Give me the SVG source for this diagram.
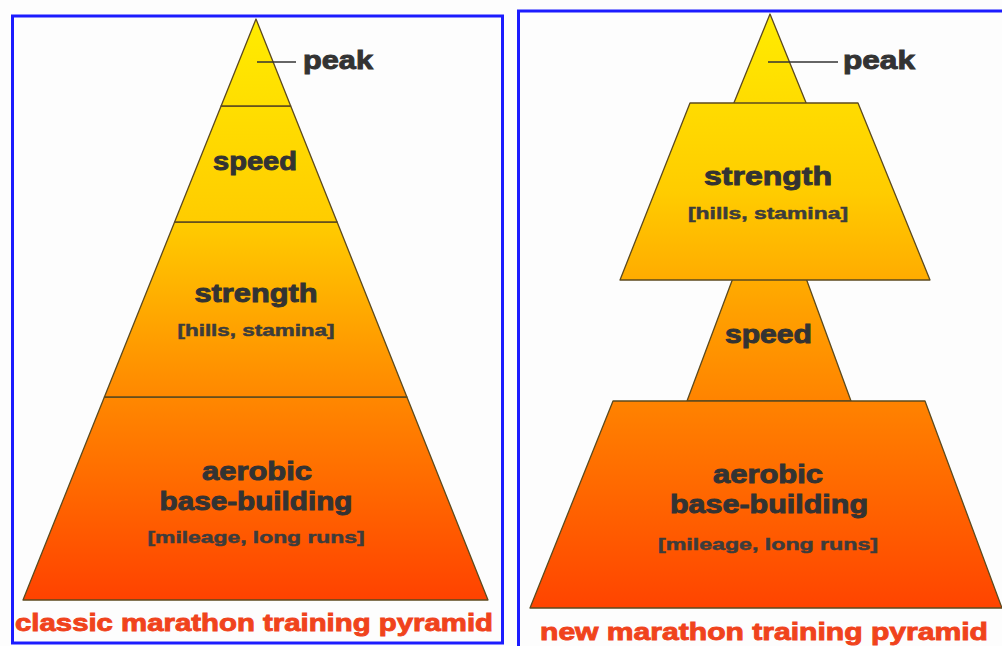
<svg xmlns="http://www.w3.org/2000/svg" width="1002" height="646" viewBox="0 0 1002 646">
  <defs>
    <!-- warm yellow-to-red fill for the classic pyramid -->
    <linearGradient id="gradClassic" gradientUnits="userSpaceOnUse" x1="0" y1="19" x2="0" y2="600">
      <stop offset="0" stop-color="#ffec00"/>
      <stop offset="0.35" stop-color="#ffcc00"/>
      <stop offset="0.62" stop-color="#ff8e00"/>
      <stop offset="1" stop-color="#ff4200"/>
    </linearGradient>
    <!-- same palette for the new pyramid -->
    <linearGradient id="gradNew" gradientUnits="userSpaceOnUse" x1="0" y1="14" x2="0" y2="608">
      <stop offset="0" stop-color="#ffec00"/>
      <stop offset="0.3" stop-color="#ffcc00"/>
      <stop offset="0.5" stop-color="#ffa000"/>
      <stop offset="0.7" stop-color="#ff7a00"/>
      <stop offset="1" stop-color="#ff4400"/>
    </linearGradient>
    <style>
      .frame { fill: none; stroke: #1c1cff; stroke-width: 3; }
      .tierC { fill: url(#gradClassic); stroke: #5c4a1e; stroke-width: 1.3; stroke-linejoin: round; }
      .tierN { fill: url(#gradNew); stroke: #5c4a1e; stroke-width: 1.3; stroke-linejoin: round; }
      .leader { stroke: #333; stroke-width: 1.6; fill: none; }
      .lbl { font-family: "Liberation Sans", Arial, sans-serif; font-weight: bold; fill: #333333; stroke: #333333; stroke-width: 0.9; font-size: 25px; }
      .sub { font-family: "Liberation Sans", Arial, sans-serif; font-weight: bold; fill: #3c3c3c; stroke: #3c3c3c; stroke-width: 0.5; font-size: 17px; }
      .cap { font-family: "Liberation Sans", Arial, sans-serif; font-weight: bold; fill: #f0431c; stroke: #f0431c; stroke-width: 0.9; font-size: 24px; }
      .mid { text-anchor: middle; }
    </style>
  </defs>

  <rect x="0" y="0" width="1002" height="646" fill="#fdfdfd"/>

  <!-- frames -->
  <rect class="frame" x="12.5" y="16" width="490" height="627"/>
  <rect class="frame" x="518.5" y="11" width="500" height="650"/>

  <!-- classic pyramid -->
  <g id="classic-aerobic">
    <polygon class="tierC" points="104.4,397 406.9,397 488,600 23,600"/>
    <text class="lbl mid" x="257" y="480" textLength="110" lengthAdjust="spacingAndGlyphs">aerobic</text>
    <text class="lbl mid" x="256" y="510" textLength="193" lengthAdjust="spacingAndGlyphs">base-building</text>
    <text class="sub mid" x="256" y="543" textLength="217" lengthAdjust="spacingAndGlyphs">[mileage, long runs]</text>
  </g>
  <g id="classic-strength">
    <polygon class="tierC" points="174.6,222 337.1,222 406.9,397 104.4,397"/>
    <text class="lbl mid" x="256" y="302" textLength="123" lengthAdjust="spacingAndGlyphs">strength</text>
    <text class="sub mid" x="256" y="336" textLength="157" lengthAdjust="spacingAndGlyphs">[hills, stamina]</text>
  </g>
  <g id="classic-speed">
    <polygon class="tierC" points="221.1,106 290.7,106 337.1,222 174.6,222"/>
    <text class="lbl mid" x="255" y="170" textLength="84" lengthAdjust="spacingAndGlyphs">speed</text>
  </g>
  <g id="classic-peak">
    <polygon class="tierC" points="256,19 290.7,106 221.1,106"/>
    <text class="lbl" x="303" y="69" font-size="26" textLength="70" lengthAdjust="spacingAndGlyphs">peak</text>
  </g>
  <g id="classic-caption">
    <text class="cap mid" x="254" y="631" textLength="478" lengthAdjust="spacingAndGlyphs">classic marathon training pyramid</text>
  </g>

  <!-- new pyramid -->
  <g id="new-peak">
    <polygon class="tierN" points="770,14 811,115 729,115"/>
    <text class="lbl" x="843" y="69" font-size="26" textLength="72" lengthAdjust="spacingAndGlyphs">peak</text>
  </g>
  <g id="new-speed">
    <polygon class="tierN" points="736,270 803,270 851,401 687,401"/>
    <text class="lbl mid" x="768.5" y="343" textLength="87" lengthAdjust="spacingAndGlyphs">speed</text>
  </g>
  <g id="new-strength">
    <polygon class="tierN" points="690,103 858,103 930,280 620,280"/>
    <text class="lbl mid" x="768" y="185" textLength="128" lengthAdjust="spacingAndGlyphs">strength</text>
    <text class="sub mid" x="768" y="219" textLength="160" lengthAdjust="spacingAndGlyphs">[hills, stamina]</text>
  </g>
  <g id="new-aerobic">
    <polygon class="tierN" points="613,401 925,401 1002,608 530,608"/>
    <text class="lbl mid" x="768" y="483" textLength="110" lengthAdjust="spacingAndGlyphs">aerobic</text>
    <text class="lbl mid" x="769" y="513" textLength="198" lengthAdjust="spacingAndGlyphs">base-building</text>
    <text class="sub mid" x="768" y="550" textLength="220" lengthAdjust="spacingAndGlyphs">[mileage, long runs]</text>
  </g>
  <g id="new-caption">
    <text class="cap mid" x="764" y="640" textLength="448" lengthAdjust="spacingAndGlyphs">new marathon training pyramid</text>
  </g>

  <!-- leader lines to the peak labels -->
  <g id="connectors">
    <line class="leader" x1="257" y1="62" x2="296" y2="62"/>
    <line class="leader" x1="768" y1="62" x2="838" y2="62"/>
  </g>
</svg>
